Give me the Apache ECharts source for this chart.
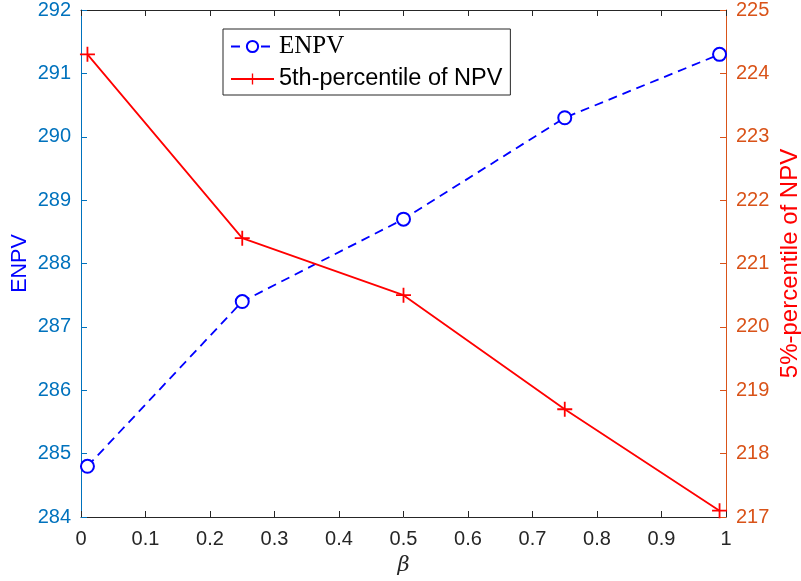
<!DOCTYPE html>
<html><head><meta charset="utf-8">
<script src="https://cdn.jsdelivr.net/npm/echarts@6/dist/echarts.min.js"></script>
<style>html,body{margin:0;padding:0;background:#fff}#c{width:801px;height:581px}</style>
</head><body><div id="c"></div>
<script>
const beta = [0.01, 0.25, 0.5, 0.75, 0.99];
const enpv = [284.8, 287.4, 288.7, 290.3, 291.3];
const p5npv = [224.3, 221.4, 220.5, 218.7, 217.1];
const leftTicks = [284, 285, 286, 287, 288, 289, 290, 291, 292];
const rightTicks = [217, 218, 219, 220, 221, 222, 223, 224, 225];

const plus = 'path://M-0.12,-1 L0.12,-1 L0.12,-0.12 L1,-0.12 L1,0.12 L0.12,0.12 L0.12,1 L-0.12,1 L-0.12,0.12 L-1,0.12 L-1,-0.12 L-0.12,-0.12 Z';
const chart = echarts.init(document.getElementById('c'));
const font = 'Liberation Sans, Arial, sans-serif';
chart.setOption({
  animation: false,
  grid: {left: 81, right: 75, top: 10, bottom: 64, containLabel: false, outerBoundsMode: 'none'},
  legend: {
    left: 223, top: 29, width: 289, height: 65,
    orient: 'vertical', itemGap: 8, itemWidth: 43, itemHeight: 14,
    padding: [5, 8, 4, 7],
    borderColor: '#262626', borderWidth: 1, backgroundColor: '#fff',
    data: [
      {name: 'ENPV', textStyle: {fontFamily: 'Liberation Serif, DejaVu Serif, serif', fontSize: 25, color: '#000'}},
      {name: '5th-percentile of NPV', textStyle: {fontFamily: font, fontSize: 23.5, color: '#000'}}
    ]
  },
  xAxis: [{
    type: 'value', min: 0, max: 1, interval: 0.1, position: 'bottom',
    name: 'β', nameLocation: 'middle', nameGap: 38,
    nameTextStyle: {fontFamily: 'DejaVu Serif, serif', fontStyle: 'italic', fontSize: 21, color: '#262626'},
    axisLine: {show: true, onZero: false, lineStyle: {color: '#262626', width: 1}},
    axisTick: {show: true, inside: true, length: 6, lineStyle: {color: '#262626'}},
    axisLabel: {fontFamily: font, fontSize: 20, color: '#262626', margin: 12,
      formatter: v => String(Math.round(v*10)/10)},
    splitLine: {show: false}
  }, {
    type: 'value', min: 0, max: 1, interval: 0.1, position: 'top',
    axisLine: {show: true, onZero: false, lineStyle: {color: '#262626', width: 1}},
    axisTick: {show: true, inside: true, length: 6, lineStyle: {color: '#262626'}},
    axisLabel: {show: false}, splitLine: {show: false}
  }],
  yAxis: [{
    type: 'value', min: leftTicks[0], max: leftTicks[leftTicks.length-1], interval: 1, position: 'left',
    name: 'ENPV', nameLocation: 'middle', nameGap: 50, nameMoveOverlap: false,
    nameTextStyle: {fontFamily: font, fontSize: 21.5, color: '#0000FF'},
    axisLine: {show: true, onZero: false, lineStyle: {color: '#0072BD', width: 1}},
    axisTick: {show: true, inside: true, length: 6, lineStyle: {color: '#0072BD'}},
    axisLabel: {fontFamily: font, fontSize: 20, color: '#0072BD', margin: 10},
    splitLine: {show: false}
  }, {
    type: 'value', min: rightTicks[0], max: rightTicks[rightTicks.length-1], interval: 1, position: 'right',
    name: '5%-percentile of NPV', nameLocation: 'middle', nameGap: 52, nameRotate: 90, nameMoveOverlap: false,
    nameTextStyle: {fontFamily: font, fontSize: 24, color: '#FF0000'},
    axisLine: {show: true, onZero: false, lineStyle: {color: '#D95319', width: 1}},
    axisTick: {show: true, inside: true, length: 6, lineStyle: {color: '#D95319'}},
    axisLabel: {fontFamily: font, fontSize: 20, color: '#D95319', margin: 10},
    splitLine: {show: false}
  }],
  series: [{
    name: 'ENPV', type: 'line', xAxisIndex: 0, yAxisIndex: 0,
    data: beta.map((b, i) => [b, enpv[i]]),
    symbol: 'emptyCircle', symbolSize: 13, showAllSymbol: true,
    lineStyle: {color: '#0000FF', width: 1.8, type: [9, 6]},
    itemStyle: {color: '#0000FF', borderColor: '#0000FF', borderWidth: 1.8}
  }, {
    name: '5th-percentile of NPV', type: 'line', xAxisIndex: 0, yAxisIndex: 1,
    data: beta.map((b, i) => [b, p5npv[i]]),
    symbol: plus, symbolSize: 15, showAllSymbol: true,
    lineStyle: {color: '#FF0000', width: 1.8},
    itemStyle: {color: '#FF0000', borderWidth: 0}
  }]
});
</script></body></html>
